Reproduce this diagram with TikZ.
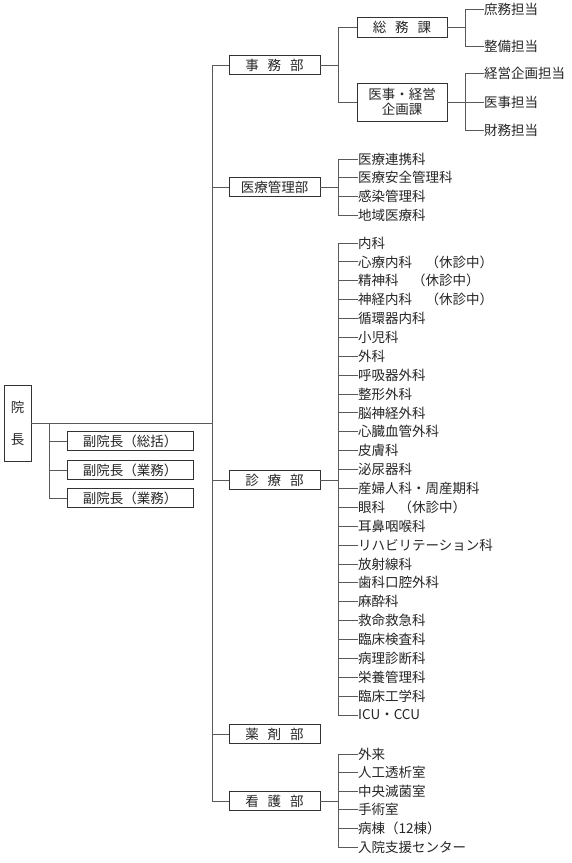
\documentclass[tikz,border=0pt]{standalone}
\usepackage{fontspec}
\setmainfont{Noto Sans CJK JP}
\newcommand\fs{\fontsize{13.5}{15}\selectfont}
\newcommand\mygap{\hspace{9pt}}
\begin{document}
\begin{tikzpicture}[x=1pt,y=-1pt,
  box/.style={draw=black!80, line width=0.9pt, inner sep=0pt, minimum height=19pt, text=black!85, font=\fs},
  dept/.style={box, minimum width=91pt},
  item/.style={anchor=west, inner sep=0pt, text=black!85, font=\fs},
  conn/.style={draw=black!65, line width=0.9pt}]
\useasboundingbox[fill=white] (0,0) rectangle (572,863);

% 院長 and 副院長
\node[box, minimum width=27pt, minimum height=76pt, align=center, font=\fontsize{13.5}{32}\selectfont] (incho) at (17.5,423) {院\\長};
\node[box, minimum width=126pt] (fuku1) at (130,441) {副院長（総括）};
\node[box, minimum width=126pt] (fuku2) at (130,470) {副院長（業務）};
\node[box, minimum width=126pt] (fuku3) at (130,498) {副院長（業務）};
\coordinate (fv) at (49,423);
\draw[conn] (fv) -- (fv |- fuku3.west);
\foreach \n in {fuku1,fuku2,fuku3} {\draw[conn] (\n.west) -- (\n.west -| fv);}

% departments
\node[dept] (jimu) at (274.5,65) {事\mygap 務\mygap 部};
\node[dept] (iryo) at (274.5,187) {医療管理部};
\node[dept] (shin) at (274.5,480) {診\mygap 療\mygap 部};
\node[dept] (yaku) at (274.5,734) {薬\mygap 剤\mygap 部};
\node[dept] (kango) at (274.5,801) {看\mygap 護\mygap 部};
\coordinate (mv) at (212,65);
\draw[conn] (mv) -- (mv |- kango.west);
\draw[conn] (incho.east) -- (incho.east -| mv);
\foreach \n in {jimu,iryo,shin,yaku,kango} {\draw[conn] (\n.west) -- (\n.west -| mv);}

% 事務部 sections
\coordinate (sv) at (338,0);
\node[box, minimum width=90pt, minimum height=20pt] (soumu) at (402,27) {総\mygap 務\mygap 課};
\node[box, minimum width=90pt, minimum height=38pt, align=center] (iji) at (402,102) {医事・経営\\企画課};
\draw[conn] (jimu.east) -- (jimu.east -| sv);
\draw[conn] (soumu.west -| sv) -- (iji.west -| sv);
\draw[conn] (soumu.west) -- (soumu.west -| sv);
\draw[conn] (iji.west) -- (iji.west -| sv);

\coordinate (tv) at (465,0);
\node[item] (t1) at (484,9) {庶務担当};
\node[item] (t2) at (484,46) {整備担当};
\node[item] (t3) at (484,73.5) {経営企画担当};
\node[item] (t4) at (484,102) {医事担当};
\node[item] (t5) at (484,130) {財務担当};
\draw[conn] (soumu.east) -- (soumu.east -| tv);
\draw[conn] (t1.west -| tv) -- (t2.west -| tv);
\draw[conn] (iji.east) -- (iji.east -| tv);
\draw[conn] (t3.west -| tv) -- (t5.west -| tv);
\foreach \n in {t1,t2,t3,t4,t5} {\draw[conn] (\n.west) -- (\n.west -| tv);}

% 医療管理部 list
\foreach \t [count=\i] in {医療連携科,医療安全管理科,感染管理科,地域医療科}
  {\node[item] (m\i) at (358,140.33+18.67*\i) {\t};}
\draw[conn] (iryo.east) -- (iryo.east -| sv);
\draw[conn] (m1.west -| sv) -- (m4.west -| sv);
\foreach \i in {1,...,4} {\draw[conn] (m\i.west) -- (m\i.west -| sv);}

% 診療部 list
\foreach \t [count=\i] in {内科,心療内科　（休診中）,精神科　（休診中）,神経内科　（休診中）,循環器内科,小児科,外科,呼吸器外科,整形外科,脳神経外科,心臓血管外科,皮膚科,泌尿器科,産婦人科・周産期科,眼科　（休診中）,耳鼻咽喉科,リハビリテーション科,放射線科,歯科口腔外科,麻酔科,救命救急科,臨床検査科,病理診断科,栄養管理科,臨床工学科,ICU・CCU}
  {\node[item] (d\i) at (358,224.12+18.88*\i) {\t};}
\draw[conn] (shin.east) -- (shin.east -| sv);
\draw[conn] (d1.west -| sv) -- (d26.west -| sv);
\foreach \i in {1,...,26} {\draw[conn] (d\i.west) -- (d\i.west -| sv);}

% 看護部 list
\foreach \t [count=\i] in {外来,人工透析室,中央滅菌室,手術室,病棟（12棟）,入院支援センター}
  {\node[item] (k\i) at (358,735.4+18.6*\i) {\t};}
\draw[conn] (kango.east) -- (kango.east -| sv);
\draw[conn] (k1.west -| sv) -- (k6.west -| sv);
\foreach \i in {1,...,6} {\draw[conn] (k\i.west) -- (k\i.west -| sv);}
\end{tikzpicture}
\end{document}
